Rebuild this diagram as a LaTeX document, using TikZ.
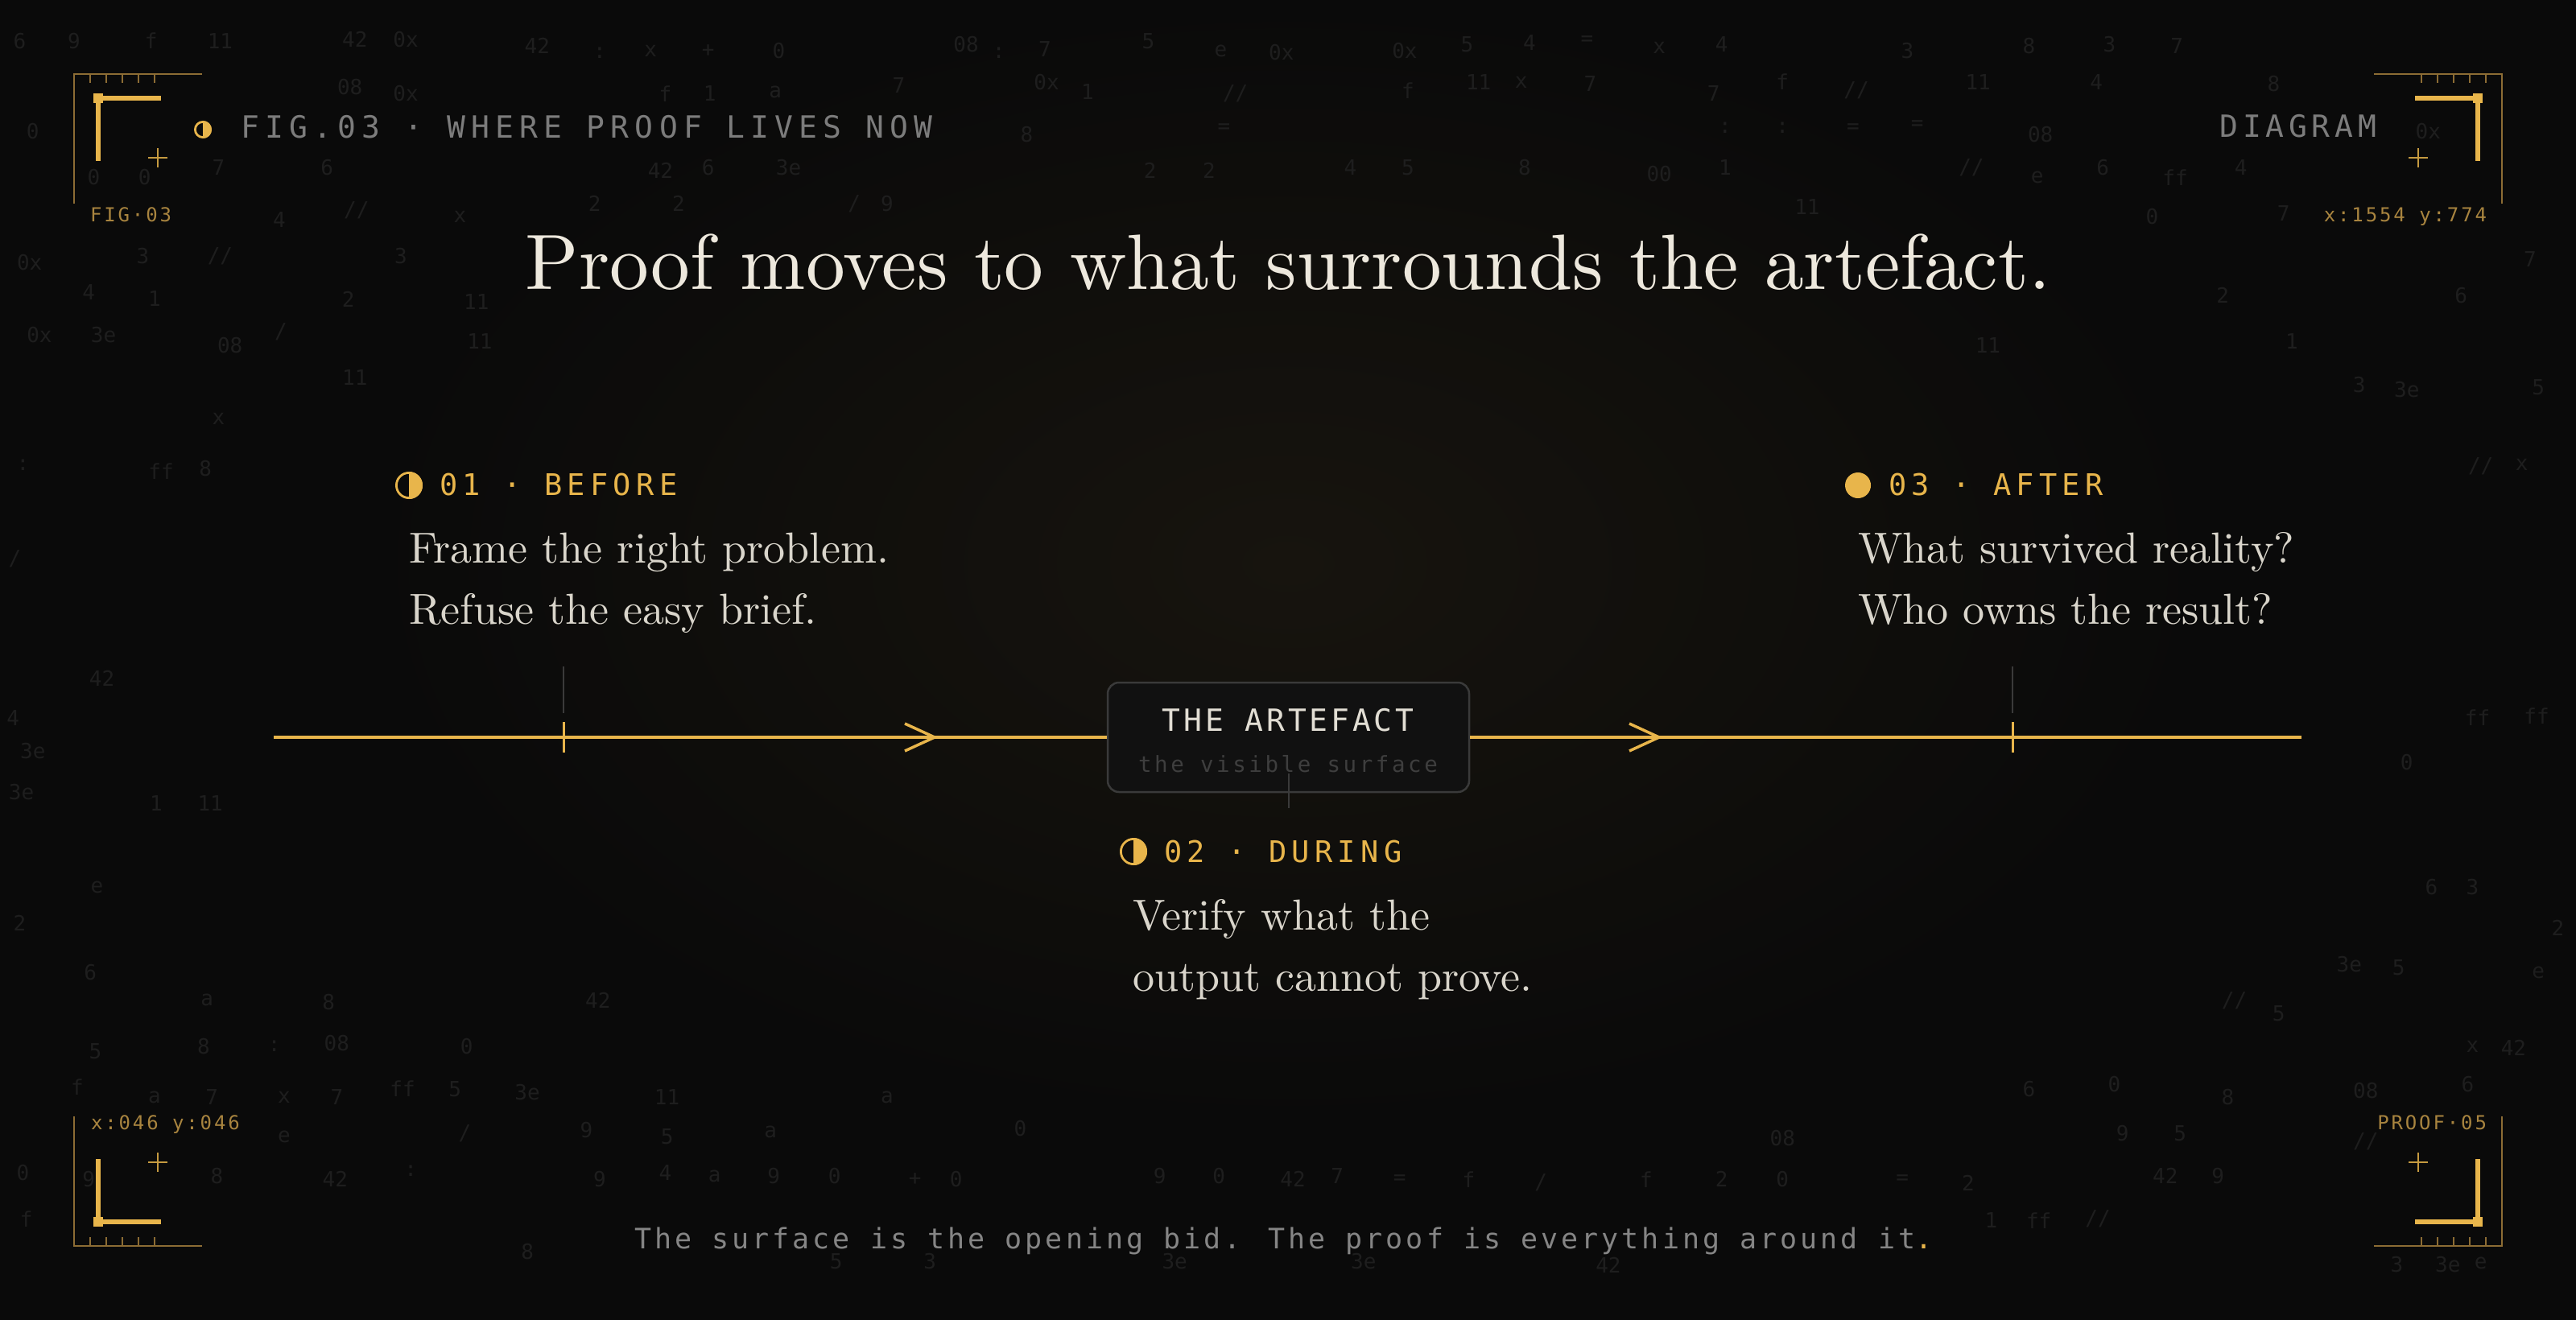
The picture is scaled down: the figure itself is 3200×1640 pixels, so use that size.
\documentclass[tikz,border=0pt]{standalone}
\usepackage{fontspec}
\newfontfamily\monoHdr[LetterSpace=19]{DejaVu Sans Mono}
\newfontfamily\monoDia[LetterSpace=15]{DejaVu Sans Mono}
\newfontfamily\monoSml[LetterSpace=12]{DejaVu Sans Mono}
\newfontfamily\monoLab[LetterSpace=17]{DejaVu Sans Mono}
\newfontfamily\monoSub[LetterSpace=13]{DejaVu Sans Mono}
\newfontfamily\monoArt[LetterSpace=10]{DejaVu Sans Mono}
\newfontfamily\monoFoot[LetterSpace=11.5]{DejaVu Sans Mono}
\newfontfamily\monoNoise{DejaVu Sans Mono}
\newfontfamily\serifTen{lmroman10-regular.otf}
\definecolor{bg}{HTML}{0A0A0A}
\definecolor{glow}{HTML}{17140E}
\definecolor{gold}{HTML}{E8B54B}
\definecolor{golddim}{HTML}{8C6C34}
\definecolor{goldtxt}{HTML}{A8843F}
\definecolor{hdrgray}{HTML}{7C7C7C}
\definecolor{titlecol}{HTML}{EDE8DD}
\definecolor{bodycol}{HTML}{D9D5CB}
\definecolor{arttxt}{HTML}{E2DED4}
\definecolor{artsub}{HTML}{3E3E3E}
\definecolor{artfill}{HTML}{111111}
\definecolor{artdraw}{HTML}{3A3A3A}
\definecolor{stubcol}{HTML}{3A3A3A}
\definecolor{footgray}{HTML}{858585}
\definecolor{noisecol}{HTML}{1E1E1E}
\newcounter{noisec}
\newcommand\noiseg[3]{\stepcounter{noisec}\node[noise] (nz\arabic{noisec}) at (#1*2.0408,#2*2.0408) {#3};}
\tikzset{
  txt/.style={inner sep=0pt, outer sep=0pt},
  noise/.style={txt, text=noisecol, font=\monoNoise\fontsize{26}{30}\selectfont},
  hdr/.style={txt, text=hdrgray, font=\monoHdr\fontsize{38}{44}\selectfont},
  hdrdia/.style={txt, text=hdrgray, font=\monoDia\fontsize{38}{44}\selectfont},
  cornertxt/.style={txt, text=goldtxt, font=\monoSml\fontsize{24}{28}\selectfont},
  titletxt/.style={txt, anchor=base, text=titlecol, font=\serifTen\fontsize{97.5}{120}\selectfont},
  labeltxt/.style={txt, anchor=base west, text=gold, font=\monoLab\fontsize{37}{44}\selectfont},
  bodytxt/.style={txt, anchor=base west, text=bodycol, font=\serifTen\fontsize{54}{76}\selectfont},
  artbox/.style={draw=artdraw, fill=artfill, line width=2.5pt, rounded corners=14pt,
    minimum width=449pt, minimum height=136pt, inner sep=0pt},
  arttitle/.style={txt, anchor=base, text=arttxt, font=\monoArt\fontsize{38}{44}\selectfont},
  artsubtxt/.style={txt, anchor=base, text=artsub, font=\monoSub\fontsize{27.5}{32}\selectfont},
  footer/.style={txt, anchor=base west, text=footgray, font=\monoFoot\fontsize{35}{40}\selectfont},
  tline/.style={draw=gold, line width=4pt},
  chev/.style={draw=gold, line width=3.5pt},
  tickmark/.style={draw=gold, line width=3pt},
  stub/.style={draw=stubcol, line width=2pt},
  halfmoon/.pic={
    \begin{scope}
      \clip (0,-#1-3) rectangle (#1+3,#1+3);
      \fill[gold] (0,0) circle[radius=#1];
    \end{scope}
    \draw[gold, line width=2.8pt] (0,0) circle[radius=#1-1.4];
  },
  cornerframe/.pic={
    \draw[golddim, line width=2.5pt] (0,161) -- (0,0) -- (159,0);
    \foreach \t in {20,40,60,80,100} \draw[golddim, line width=2pt] (\t,0) -- (\t,11);
    \draw[gold, line width=6pt] (30,108) -- (30,30) -- (108,30);
    \fill[gold] (24,24) rectangle (36,36);
    \draw[gold!85!black, line width=2pt] (92,104) -- (116,104) (104,92) -- (104,116);
  }
}
\begin{document}
\begin{tikzpicture}[x=1pt, y=-1pt]
% background
\fill[bg] (0,0) rectangle (3200,1640);
\shade[inner color=glow, outer color=bg] (1600,700) ellipse (1150 and 700);
\useasboundingbox (0,0) rectangle (3200,1640);

% background glyph noise
\noiseg{12}{25}{6}\noiseg{45}{25}{9}\noiseg{92}{25}{f}\noiseg{134}{25}{11}\noiseg{216}{24}{42}\noiseg{247}{24}{0x}\noiseg{327}{28}{42}\noiseg{365}{32}{:}\noiseg{396}{31}{x}\noiseg{431}{31}{+}\noiseg{474}{31}{0}\noiseg{588}{27}{08}\noiseg{608}{32}{:}\noiseg{636}{30}{7}\noiseg{699}{25}{5}\noiseg{743}{31}{e}\noiseg{780}{32}{0x}\noiseg{855}{31}{0x}\noiseg{893}{27}{5}\noiseg{931}{26}{4}\noiseg{966}{25}{=}\noiseg{1010}{29}{x}\noiseg{1048}{27}{4}\noiseg{1161}{31}{3}\noiseg{1235}{28}{8}\noiseg{1284}{27}{3}\noiseg{1325}{28}{7}
\noiseg{213}{53}{08}\noiseg{247}{57}{0x}\noiseg{405}{57}{f}\noiseg{432}{57}{1}\noiseg{472}{56}{a}\noiseg{547}{52}{7}\noiseg{637}{50}{0x}\noiseg{662}{56}{1}\noiseg{752}{57}{//}\noiseg{857}{55}{f}\noiseg{900}{50}{11}\noiseg{926}{50}{x}\noiseg{968}{51}{7}\noiseg{1043}{57}{7}\noiseg{1085}{50}{f}\noiseg{1130}{55}{//}\noiseg{1204}{50}{11}\noiseg{1276}{50}{4}\noiseg{1384}{51}{8}
\noiseg{625}{82}{8}\noiseg{745}{78}{=}\noiseg{1050}{78}{:}\noiseg{1085}{78}{:}\noiseg{1128}{78}{=}\noiseg{1167}{76}{=}\noiseg{1242}{82}{08}\noiseg{1478}{80}{0x}\noiseg{20}{80}{0}
\noiseg{57}{108}{0}\noiseg{88}{108}{0}\noiseg{133}{102}{7}\noiseg{199}{102}{6}\noiseg{402}{104}{42}\noiseg{431}{102}{6}\noiseg{480}{102}{3e}\noiseg{700}{104}{2}\noiseg{736}{104}{2}\noiseg{822}{102}{4}\noiseg{857}{102}{5}\noiseg{928}{102}{8}\noiseg{1010}{106}{00}\noiseg{1050}{102}{1}\noiseg{1200}{102}{//}\noiseg{1240}{108}{e}\noiseg{1280}{102}{6}\noiseg{1324}{108}{ff}\noiseg{1364}{102}{4}
\noiseg{170}{134}{4}\noiseg{217}{128}{//}\noiseg{280}{132}{x}\noiseg{362}{124}{2}\noiseg{413}{124}{2}\noiseg{520}{124}{/}\noiseg{540}{124}{9}\noiseg{1100}{126}{11}\noiseg{1310}{132}{0}\noiseg{1390}{130}{7}
\noiseg{18}{160}{0x}\noiseg{87}{156}{3}\noiseg{134}{156}{//}\noiseg{244}{156}{3}\noiseg{1540}{158}{7}\noiseg{54}{178}{4}\noiseg{94}{182}{1}\noiseg{212}{182}{2}\noiseg{290}{184}{11}\noiseg{1353}{180}{2}\noiseg{1498}{180}{6}\noiseg{24}{204}{0x}\noiseg{63}{204}{3e}\noiseg{140}{210}{08}\noiseg{171}{202}{/}\noiseg{292}{208}{11}\noiseg{1210}{210}{11}\noiseg{1395}{208}{1}\noiseg{216}{230}{11}\noiseg{1465}{237}{3e}\noiseg{1436}{234}{3}\noiseg{1545}{236}{5}
\noiseg{133}{255}{x}\noiseg{14}{283}{:}\noiseg{98}{287}{ff}\noiseg{125}{285}{8}\noiseg{1510}{284}{//}\noiseg{1535}{283}{x}\noiseg{9}{340}{/}\noiseg{62}{413}{42}\noiseg{8}{437}{4}\noiseg{20}{457}{3e}\noiseg{13}{482}{3e}\noiseg{95}{489}{1}\noiseg{128}{489}{11}\noiseg{1465}{464}{0}\noiseg{1508}{437}{ff}\noiseg{1544}{436}{ff}
\noiseg{59}{540}{e}\noiseg{12}{562}{2}\noiseg{55}{592}{6}\noiseg{126}{609}{a}\noiseg{200}{610}{8}\noiseg{1430}{587}{3e}\noiseg{1460}{589}{5}\noiseg{1480}{540}{6}\noiseg{1505}{540}{3}\noiseg{1545}{592}{e}\noiseg{1557}{565}{2}
\noiseg{58}{640}{5}\noiseg{124}{637}{8}\noiseg{167}{637}{:}\noiseg{205}{635}{08}\noiseg{284}{637}{0}\noiseg{364}{609}{42}\noiseg{1360}{609}{//}\noiseg{1387}{617}{5}\noiseg{1505}{637}{x}\noiseg{1530}{638}{42}
\noiseg{47}{662}{f}\noiseg{94}{668}{a}\noiseg{129}{668}{7}\noiseg{173}{668}{x}\noiseg{205}{668}{7}\noiseg{245}{663}{ff}\noiseg{277}{663}{5}\noiseg{321}{665}{3e}\noiseg{406}{668}{11}\noiseg{540}{668}{a}\noiseg{1235}{663}{6}\noiseg{1287}{660}{0}\noiseg{1356}{668}{8}\noiseg{1440}{664}{08}\noiseg{1502}{660}{6}
\noiseg{173}{692}{e}\noiseg{283}{690}{/}\noiseg{357}{688}{9}\noiseg{406}{692}{5}\noiseg{469}{689}{a}\noiseg{621}{687}{0}\noiseg{1085}{693}{08}\noiseg{1292}{690}{9}\noiseg{1327}{690}{5}\noiseg{1440}{695}{//}
\noiseg{14}{714}{0}\noiseg{54}{718}{9}\noiseg{132}{716}{8}\noiseg{204}{718}{42}\noiseg{250}{713}{:}\noiseg{365}{718}{9}\noiseg{405}{714}{4}\noiseg{435}{716}{a}\noiseg{471}{716}{9}\noiseg{508}{716}{0}\noiseg{557}{718}{+}\noiseg{582}{718}{0}\noiseg{706}{716}{9}\noiseg{742}{716}{0}\noiseg{787}{718}{42}\noiseg{814}{716}{7}\noiseg{852}{718}{=}\noiseg{894}{718}{f}\noiseg{938}{720}{/}\noiseg{1002}{718}{f}\noiseg{1048}{718}{2}\noiseg{1085}{718}{0}\noiseg{1158}{718}{=}\noiseg{1198}{720}{2}\noiseg{1318}{716}{42}\noiseg{1350}{716}{9}
\noiseg{16}{742}{f}\noiseg{321}{762}{8}\noiseg{509}{768}{5}\noiseg{566}{768}{3}\noiseg{715}{768}{3e}\noiseg{830}{768}{3e}\noiseg{979}{770}{42}\noiseg{1212}{743}{1}\noiseg{1241}{743}{ff}\noiseg{1277}{742}{//}\noiseg{1459}{770}{3}\noiseg{1490}{770}{3e}\noiseg{1510}{769}{e}

% corner frames
\pic at (92,92) {cornerframe};
\pic[xscale=-1] at (3108,92) {cornerframe};
\pic[yscale=-1] at (92,1548) {cornerframe};
\pic[xscale=-1,yscale=-1] at (3108,1548) {cornerframe};
\node[cornertxt, anchor=base west] (figtag) at (112,275) {FIG·03};
\node[cornertxt, anchor=base east] (xytr) at (3089,275) {x:1554 y:774};
\node[cornertxt, anchor=base west] (xybl) at (113,1403) {x:046 y:046};
\node[cornertxt, anchor=base east] (prooftag) at (3089,1403) {PROOF·05};

% header
\pic at (252,161) {halfmoon=11};
\node[hdr, anchor=base west] (hdrL) at (299,172) {FIG.03 · WHERE PROOF LIVES NOW};
\node[hdrdia, anchor=base east] (hdrR) at (2952,171) {DIAGRAM};

% title
\node[titletxt] (title) at (1600,359) {Proof moves to what surrounds the artefact.};

% timeline
\coordinate (tlL) at (340,916);
\coordinate (tlR) at (2859,916);
\node[artbox] (art) at (1600.5,916) {};
\draw[tline] (tlL) -- (art.west);
\draw[tline] (art.east) -- (tlR);
\node[arttitle] (artT) at (1600,908) {THE ARTEFACT};
\node[artsubtxt] (artS) at (1600,959) {the visible surface};
\draw[stub] (art.south) ++(0,-24) -- ++(0,43);

\coordinate (chevA) at (1161,916);
\coordinate (chevB) at (2061,916);
\draw[chev] (chevA) ++(-37,-17) -- (chevA) -- ++(-37,17);
\draw[chev] (chevB) ++(-37,-17) -- (chevB) -- ++(-37,17);

\coordinate (tickA) at (700,916);
\coordinate (tickB) at (2500,916);
\draw[tickmark] (tickA) ++(0,-19) -- ++(0,38);
\draw[tickmark] (tickB) ++(0,-19) -- ++(0,38);
\draw[stub] (tickA) ++(0,-88) -- ++(0,58);
\draw[stub] (tickB) ++(0,-88) -- ++(0,58);

% 01 before
\pic at (508,603) {halfmoon=17};
\node[labeltxt] (lab1) at (546,615) {01 · BEFORE};
\node[bodytxt] (b1a) at (508,699) {Frame the right problem.};
\node[bodytxt] (b1b) at (508,775) {Refuse the easy brief.};

% 02 during
\pic at (1408,1058) {halfmoon=17};
\node[labeltxt] (lab2) at (1446,1071) {02 · DURING};
\node[bodytxt] (b2a) at (1407,1155) {Verify what the};
\node[bodytxt] (b2b) at (1407,1231) {output cannot prove.};

% 03 after
\node[circle, fill=gold, minimum size=32pt, inner sep=0pt] (dot3) at (2308,603) {};
\node[labeltxt] (lab3) at (2346,615) {03 · AFTER};
\node[bodytxt] (b3a) at (2308,699) {What survived reality?};
\node[bodytxt] (b3b) at (2308,775) {Who owns the result?};

% footer
\node[footer] (foot) at (788,1551) {The surface is the opening bid. The proof is everything around it\textcolor{gold}{.}};
\end{tikzpicture}
\end{document}
